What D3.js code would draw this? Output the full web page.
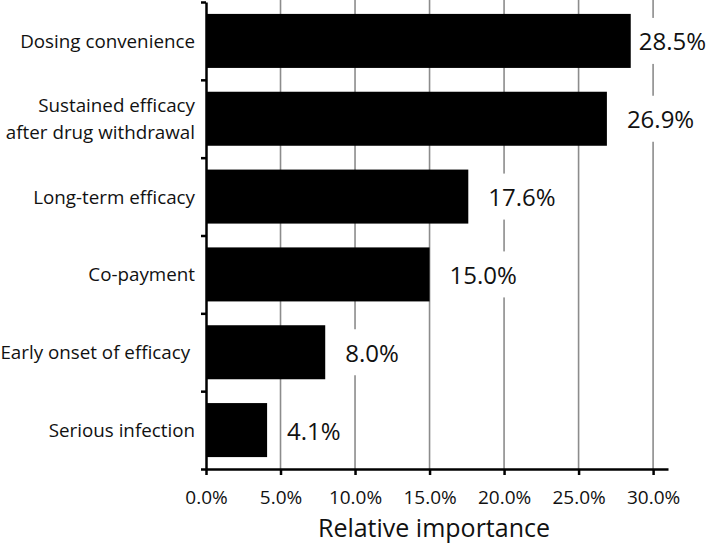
<!DOCTYPE html>
<html>
<head>
<meta charset="utf-8">
<script src="https://cdn.jsdelivr.net/npm/d3@7"></script>
<style>
  html, body { margin: 0; padding: 0; background: #fff; }
  svg { display: block; font-family: "Open Sans", "Noto Sans", sans-serif; }
</style>
</head>
<body>
<svg id="chart" width="709" height="544"></svg>
<script>
const categories = [
  ["Dosing convenience"],
  ["Sustained efficacy", "after drug withdrawal"],
  ["Long-term efficacy"],
  ["Co-payment"],
  ["Early onset of efficacy "],
  ["Serious infection"]
];
const values = [28.5, 26.9, 17.6, 15.0, 8.0, 4.1];
const xTicks = [0, 5, 10, 15, 20, 25, 30];
const xTitle = "Relative importance";

const W = 709, H = 544;
const svg = d3.select("#chart");

const x = d3.scaleLinear().domain([0, 31]).range([206, 668]);
const keys = categories.map((c, i) => i);
const y = d3.scaleBand().domain(keys).range([2, 469]).paddingInner(0.306).paddingOuter(0.153);
const yB = d3.scaleLinear().domain([0, categories.length]).range([2, 469]);

// gridlines
svg.append("g").selectAll("line").data(xTicks.filter(t => t > 0)).join("line")
  .attr("x1", d => x(d)).attr("x2", d => x(d))
  .attr("y1", 0).attr("y2", 469)
  .attr("stroke", "#8c8c8c").attr("stroke-width", 1.6);

// bars
svg.append("g").selectAll("rect").data(values).join("rect")
  .attr("x", x(0))
  .attr("y", (d, i) => y(i))
  .attr("width", d => x(d) - x(0))
  .attr("height", y.bandwidth())
  .attr("fill", "#000");

// value labels with white background
const lg = svg.append("g");
values.forEach((v, i) => {
  const g = lg.append("g");
  const bg = g.append("rect").attr("fill", "#fff");
  const t = g.append("text")
    .attr("font-size", 24)
    .attr("fill", "#111")
    .attr("dominant-baseline", "central")
    .attr("y", y(i) + y.bandwidth() / 2)
    .text(v.toFixed(1) + "%");
  const w = t.node().getComputedTextLength();
  const tx = Math.min(x(v) + 20, W - 3 - w);
  t.attr("x", tx);
  bg.attr("x", tx - 4).attr("y", y(i) + y.bandwidth() / 2 - 23)
    .attr("width", w + 8).attr("height", 46);
});

// x axis
const xAxis = svg.append("g")
  .attr("transform", "translate(0,469)")
  .call(d3.axisBottom(x).tickValues(xTicks).tickSize(6).tickSizeOuter(0)
    .tickFormat(d => d.toFixed(1) + "%"));
xAxis.select(".domain").attr("stroke", "#000").attr("stroke-width", 2.5);
xAxis.selectAll(".tick line").attr("stroke", "#000").attr("stroke-width", 2.5);
xAxis.selectAll(".tick text").attr("font-size", 19).attr("fill", "#111")
  .attr("font-family", "'Open Sans', sans-serif").attr("dy", null).attr("y", 35);

// y axis
const yAxis = svg.append("g")
  .attr("transform", "translate(206,0)")
  .call(d3.axisLeft(yB).ticks(categories.length).tickSize(5).tickSizeOuter(0).tickFormat(""));
yAxis.select(".domain").attr("stroke", "#000").attr("stroke-width", 2.5);
yAxis.selectAll(".tick line").attr("stroke", "#000").attr("stroke-width", 2.5);

// category labels
const cg = svg.append("g");
categories.forEach((lines, i) => {
  const cy = y(i) + y.bandwidth() / 2;
  const lh = 27;
  const t = cg.append("text")
    .attr("text-anchor", "end")
    .attr("font-size", 18.8)
    .attr("fill", "#111")
    .style("white-space", "pre")
    .attr("dominant-baseline", "central");
  lines.forEach((ln, j) => {
    t.append("tspan").attr("x", 195)
      .attr("y", cy + (j - (lines.length - 1) / 2) * lh)
      .text(ln);
  });
});

// axis title
svg.append("text")
  .attr("x", 434).attr("y", 537)
  .attr("text-anchor", "middle")
  .attr("font-size", 25)
  .attr("fill", "#111")
  .text(xTitle);
</script>
</body>
</html>
